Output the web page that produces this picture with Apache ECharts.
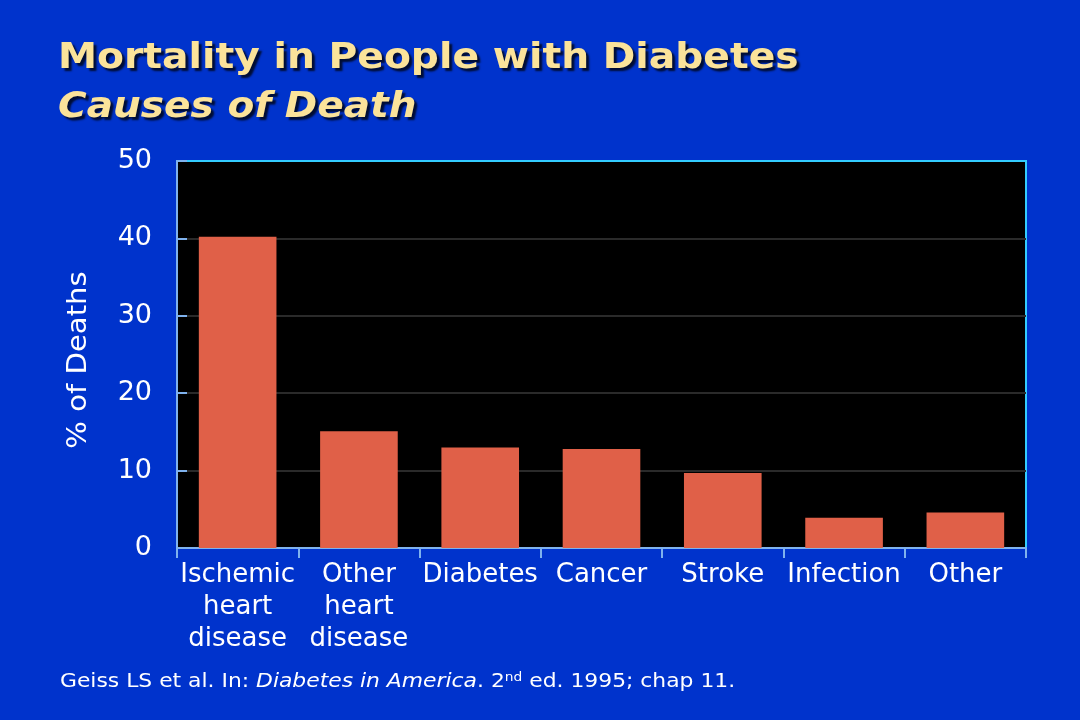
<!DOCTYPE html>
<html>
<head>
<meta charset="utf-8">
<script src="https://cdn.jsdelivr.net/npm/echarts@6/dist/echarts.min.js"></script>
<style>
html,body{margin:0;padding:0;background:#0033cc;}
#c{width:1080px;height:720px;}
</style>
</head>
<body>
<div id="c"></div>
<script>
var categories = ["Ischemic\nheart\ndisease", "Other\nheart\ndisease", "Diabetes", "Cancer", "Stroke", "Infection", "Other"];
var deaths = [40.2, 15.1, 13.0, 12.8, 9.7, 3.9, 4.6];
var yTicks = [0, 10, 20, 30, 40, 50];

var chart = echarts.init(document.getElementById('c'));
var font = '"DejaVu Sans", Verdana, sans-serif';
var shadow = { textShadowColor: 'rgba(0,0,0,0.75)', textShadowOffsetX: 3, textShadowOffsetY: 3, textShadowBlur: 2 };
chart.setOption({
  backgroundColor: '#0033cc',
  animation: false,
  textStyle: { fontFamily: font },
  grid: {
    left: 177, right: 54, top: 161, bottom: 172,
    show: true, backgroundColor: '#000000',
    borderColor: '#33ccff', borderWidth: 2
  },
  graphic: [
    { type: 'text', x: 58, y: 41, scaleX: 1.09, z: 10,
      style: Object.assign({ text: 'Mortality in People with Diabetes', fill: '#fbe39a',
        font: 'bold 36px ' + font }, shadow) },
    { type: 'text', x: 58, y: 90, scaleX: 1.085, z: 10,
      style: Object.assign({ text: 'Causes of Death', fill: '#fbe39a',
        font: 'italic bold 36px ' + font }, shadow) },
    { type: 'text', x: 79, y: 360, rotation: Math.PI / 2, scaleX: 1.12, z: 10,
      style: { text: '% of Deaths', fill: '#ffffff', font: '26px ' + font,
        align: 'center', verticalAlign: 'middle' } },
    { type: 'text', x: 60, y: 672, scaleX: 1.15, z: 10,
      style: {
        text: '{n|Geiss LS et al. In: }{i|Diabetes in America}{n|. 2}{s|nd}{n| ed. 1995; chap 11.}',
        rich: {
          n: { fill: '#ffffff', font: '19px ' + font, verticalAlign: 'bottom' },
          i: { fill: '#ffffff', font: 'italic 19px ' + font, verticalAlign: 'bottom' },
          s: { fill: '#ffffff', font: '12px ' + font, verticalAlign: 'top', padding: [0, 0, 8, 0] }
        }
      } }
  ],
  xAxis: {
    type: 'category',
    data: categories,
    axisLine: { lineStyle: { color: '#7fb2ee', width: 2 } },
    axisTick: { show: true, inside: false, length: 10, lineStyle: { color: '#7fb2ee', width: 2 } },
    axisLabel: { color: '#ffffff', fontSize: 26, lineHeight: 32, margin: 11, interval: 0 },
    splitLine: { show: false }
  },
  yAxis: {
    type: 'value',
    min: yTicks[0], max: yTicks[yTicks.length - 1], interval: 10,
    axisLine: { show: true, lineStyle: { color: '#7fb2ee', width: 2 } },
    axisTick: { show: true, inside: true, length: 10, lineStyle: { color: '#7fb2ee', width: 2 } },
    axisLabel: { color: '#ffffff', fontSize: 27, margin: 25 },
    splitLine: { show: true, showMinLine: false, showMaxLine: false, lineStyle: { color: '#2a2a2a', width: 2 } }
  },
  series: [{
    type: 'bar',
    data: deaths,
    barCategoryGap: '36%',
    itemStyle: { color: '#e06048' }
  }]
});
</script>
</body>
</html>
